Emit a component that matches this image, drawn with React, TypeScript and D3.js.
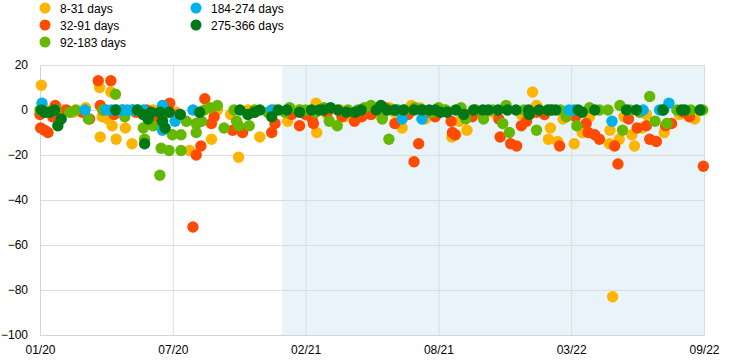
import React, { useEffect, useRef } from 'react';
import * as d3 from 'd3';

const seriesNames = ['8-31 days', '32-91 days', '92-183 days', '184-274 days', '275-366 days'];
const seriesColors = ['#FFB400', '#FF4B00', '#65B800', '#00B1EA', '#007816'];
const xTickLabels = ['01/20', '07/20', '02/21', '08/21', '03/22', '09/22'];
const yTicks = [-100, -80, -60, -40, -20, 0, 20];
const shadeFrom = '2021-01-01';

const days8to31: [string, number][] = [
  ['2020-01-03', 11], ['2020-01-10', 0], ['2020-01-20', -2], ['2020-02-05', 0], ['2020-02-20', -1],
  ['2020-03-10', 1], ['2020-03-31', 10], ['2020-04-01', -12], ['2020-04-04', -3], ['2020-04-12', -4],
  ['2020-04-17', 8], ['2020-04-19', -7], ['2020-04-25', -13], ['2020-05-09', -8], ['2020-05-19', -15],
  ['2020-06-05', -2], ['2020-06-20', 0], ['2020-07-05', -3], ['2020-07-25', -1], ['2020-08-14', -18],
  ['2020-08-25', -6], ['2020-09-16', -13], ['2020-09-25', 0], ['2020-10-15', -2], ['2020-10-27', -21],
  ['2020-11-10', 0], ['2020-11-28', -12], ['2020-12-15', -1], ['2021-01-09', -5], ['2021-01-25', 0],
  ['2021-02-21', 3], ['2021-02-22', -10], ['2021-03-10', -2], ['2021-03-30', 0], ['2021-04-05', -3],
  ['2021-04-20', -3], ['2021-05-10', 0], ['2021-05-28', -2], ['2021-06-01', -3], ['2021-06-12', 1],
  ['2021-06-20', -1], ['2021-07-01', -8], ['2021-07-15', 2], ['2021-07-28', 1], ['2021-08-05', -4],
  ['2021-08-15', -2], ['2021-09-03', 0], ['2021-09-14', -12], ['2021-09-20', -11], ['2021-09-25', -5],
  ['2021-10-07', -9], ['2021-10-20', 0], ['2021-11-15', -1], ['2021-12-05', 1], ['2021-12-28', -2],
  ['2022-01-14', 8], ['2022-01-20', 2], ['2022-02-07', -13], ['2022-02-10', -8], ['2022-02-21', -14],
  ['2022-03-01', -4], ['2022-03-18', -15], ['2022-03-30', -10], ['2022-04-10', -3], ['2022-05-10', -15],
  ['2022-05-11', -9], ['2022-05-15', -83], ['2022-05-25', -13], ['2022-06-01', -3], ['2022-06-13', -11],
  ['2022-06-17', -16], ['2022-06-28', -8], ['2022-07-05', -2], ['2022-08-01', -10], ['2022-08-24', -2],
  ['2022-09-16', -4], ['2022-09-25', 0],
];

const days32to91: [string, number][] = [
  ['2020-01-01', -2], ['2020-01-02', -8], ['2020-01-08', -9], ['2020-01-13', -10], ['2020-01-20', -3],
  ['2020-01-24', 2], ['2020-02-10', 0], ['2020-03-05', -1], ['2020-03-16', -4], ['2020-03-29', 13],
  ['2020-04-01', 2], ['2020-04-05', 0], ['2020-04-17', 13], ['2020-04-22', -2], ['2020-05-05', 0],
  ['2020-05-25', -1], ['2020-06-10', 0], ['2020-06-25', -3], ['2020-07-15', 3], ['2020-07-28', -2],
  ['2020-08-19', -52], ['2020-08-24', -20], ['2020-08-31', -16], ['2020-09-06', 5], ['2020-09-16', -6],
  ['2020-09-20', -3], ['2020-10-18', -9], ['2020-11-02', -10], ['2020-11-20', -1], ['2020-12-16', -10],
  ['2020-12-21', -6], ['2021-01-15', -2], ['2021-01-27', -7], ['2021-02-05', -2], ['2021-02-15', -4],
  ['2021-02-17', -6], ['2021-03-10', -1], ['2021-04-01', -3], ['2021-04-20', -5], ['2021-05-01', -3],
  ['2021-05-15', -2], ['2021-06-05', 1], ['2021-06-20', -6], ['2021-07-10', -2], ['2021-07-19', -23],
  ['2021-07-26', -15], ['2021-08-10', -1], ['2021-08-20', -3], ['2021-08-30', 0], ['2021-09-13', -5],
  ['2021-09-15', -10], ['2021-09-19', -11], ['2021-10-05', -2], ['2021-10-15', -3], ['2021-10-30', -1],
  ['2021-11-24', -4], ['2021-11-26', -12], ['2021-12-12', -15], ['2021-12-21', -16], ['2021-12-28', -7],
  ['2022-01-05', -5], ['2022-01-20', -1], ['2022-02-01', -2], ['2022-02-24', -16], ['2022-03-10', -2],
  ['2022-03-20', -3], ['2022-04-05', -6], ['2022-04-08', -10], ['2022-04-18', -11], ['2022-04-25', -13],
  ['2022-05-18', -16], ['2022-05-23', -24], ['2022-06-08', -4], ['2022-06-21', -8], ['2022-07-05', -7],
  ['2022-07-10', -13], ['2022-07-20', -14], ['2022-08-03', -7], ['2022-08-12', -6], ['2022-08-30', -1],
  ['2022-09-08', -3], ['2022-09-29', -25],
];

const days92to183: [string, number][] = [
  ['2020-01-01', 0], ['2020-01-10', -1], ['2020-01-25', 0], ['2020-02-15', -1], ['2020-02-24', 0],
  ['2020-03-14', -4], ['2020-04-05', 0], ['2020-04-24', 7], ['2020-05-08', -3], ['2020-05-20', 0],
  ['2020-06-05', -8], ['2020-06-07', -13], ['2020-06-20', -7], ['2020-06-30', -29], ['2020-07-02', -17],
  ['2020-07-14', -18], ['2020-07-19', -11], ['2020-08-01', -11], ['2020-08-01', -18], ['2020-08-09', -5],
  ['2020-08-24', -6], ['2020-08-24', -10], ['2020-09-01', -5], ['2020-09-05', 0], ['2020-09-14', 1],
  ['2020-09-25', 2], ['2020-10-05', -8], ['2020-10-20', 0], ['2020-10-24', -5], ['2020-10-27', -7],
  ['2020-11-12', -7], ['2020-11-20', 0], ['2020-12-10', -1], ['2020-12-20', 0], ['2021-01-05', -1],
  ['2021-01-12', 1], ['2021-01-28', 0], ['2021-02-05', 0], ['2021-02-20', -1], ['2021-03-05', 1],
  ['2021-03-13', -5], ['2021-03-25', -7], ['2021-04-10', 0], ['2021-04-25', 0], ['2021-05-05', 1],
  ['2021-05-15', 2], ['2021-06-01', -4], ['2021-06-11', -13], ['2021-06-15', 0], ['2021-06-25', 0],
  ['2021-07-05', 0], ['2021-07-20', 1], ['2021-08-01', 0], ['2021-08-15', -1], ['2021-08-25', 1],
  ['2021-09-05', 0], ['2021-09-28', 1], ['2021-10-05', -4], ['2021-10-20', 0], ['2021-11-01', -4],
  ['2021-11-15', 0], ['2021-11-30', -6], ['2021-12-05', 2], ['2021-12-10', -10], ['2022-01-01', 0],
  ['2022-01-20', -9], ['2022-02-10', 0], ['2022-02-25', 0], ['2022-03-06', -3], ['2022-03-22', -7],
  ['2022-04-10', 1], ['2022-04-25', 0], ['2022-05-08', 0], ['2022-05-26', 2], ['2022-05-30', -9],
  ['2022-06-10', 0], ['2022-06-25', -1], ['2022-07-10', 6], ['2022-07-18', -5], ['2022-08-05', -6],
  ['2022-08-20', 0], ['2022-09-10', 0], ['2022-09-28', 0],
];

const days184to274: [string, number][] = [
  ['2020-01-04', 3], ['2020-03-09', 0], ['2020-04-10', 0], ['2020-04-18', 0], ['2020-04-26', 0],
  ['2020-05-04', 0], ['2020-05-12', 0], ['2020-05-20', 0], ['2020-05-28', 0], ['2020-06-05', 0],
  ['2020-07-04', 2], ['2020-07-04', -9], ['2020-07-23', -5], ['2020-08-19', 0], ['2020-12-16', 0],
  ['2021-06-22', 0], ['2021-07-01', -4], ['2021-07-29', 0], ['2021-07-31', -4], ['2022-03-10', 0],
  ['2022-03-18', 0], ['2022-05-14', -5], ['2022-06-30', 0], ['2022-07-25', 0], ['2022-07-31', 0],
  ['2022-08-08', 3],
];

const days275to366: [string, number][] = [
  ['2020-01-03', 0], ['2020-01-08', -1], ['2020-01-16', -1], ['2020-01-23', 0], ['2020-01-28', -7],
  ['2020-02-02', -4], ['2020-04-24', 0], ['2020-05-27', 0], ['2020-06-05', -2], ['2020-06-07', -15],
  ['2020-06-12', -4], ['2020-06-17', -1], ['2020-06-30', -1], ['2020-07-04', -5], ['2020-07-08', -8],
  ['2020-07-14', -1], ['2020-07-31', -2], ['2020-08-29', -1], ['2020-10-29', 0], ['2020-11-10', -2],
  ['2020-11-20', -1], ['2020-11-28', 0], ['2020-12-16', -3], ['2020-12-26', 0], ['2021-01-08', 0],
  ['2021-01-27', -1], ['2021-02-14', 0], ['2021-02-26', 0], ['2021-03-04', 0], ['2021-03-15', 1],
  ['2021-03-26', 0], ['2021-04-08', -1], ['2021-04-21', -1], ['2021-04-30', 0], ['2021-05-23', 0],
  ['2021-05-30', 2], ['2021-06-08', 0], ['2021-06-20', 0], ['2021-07-03', 0], ['2021-07-19', 0],
  ['2021-07-31', 0], ['2021-08-11', 0], ['2021-08-20', 0], ['2021-08-28', -1], ['2021-09-07', -1],
  ['2021-09-20', 0], ['2021-10-02', -2], ['2021-10-17', 0], ['2021-10-31', 0], ['2021-11-08', 0],
  ['2021-11-23', 0], ['2021-12-07', 0], ['2021-12-20', 0], ['2022-01-08', 0], ['2022-01-09', -2],
  ['2022-01-24', 0], ['2022-02-06', 0], ['2022-02-12', 0], ['2022-02-18', 0], ['2022-03-24', 0],
  ['2022-03-30', -1], ['2022-04-18', 0], ['2022-06-05', 0], ['2022-06-20', 0], ['2022-07-30', 0],
  ['2022-08-27', 0], ['2022-09-01', 0], ['2022-09-24', 0],
];

const allSeries = [days8to31, days32to91, days92to183, days184to274, days275to366];

const W = 744;
const H = 362;
const m = { left: 40, right: 40, top: 65, bottom: 27 };

export default function App() {
  const ref = useRef<SVGSVGElement>(null);

  useEffect(() => {
    const svg = d3.select(ref.current);
    svg.selectAll('*').remove();

    const parse = d3.timeParse('%Y-%m-%d');
    const start = new Date(2020, 0, 1);
    const end = new Date(2022, 8, 30);

    const x = d3.scaleTime().domain([start, end]).range([m.left, W - m.right]);
    const xLab = d3.scalePoint().domain(xTickLabels).range([m.left, W - m.right]);
    const y = d3.scaleLinear().domain([-100, 20]).range([H - m.bottom, m.top]);

    // shaded period
    svg.append('rect')
      .attr('x', x(parse(shadeFrom)!))
      .attr('y', y(20))
      .attr('width', x(end) - x(parse(shadeFrom)!))
      .attr('height', y(-100) - y(20))
      .attr('fill', '#e9f4fa');

    // horizontal grid
    svg.append('g')
      .attr('transform', `translate(${m.left},0)`)
      .call(d3.axisLeft(y).tickValues(yTicks).tickSize(-(W - m.left - m.right)).tickFormat(() => ''))
      .call(g => g.select('.domain').remove())
      .call(g => g.selectAll('line').attr('stroke', '#dcdcdc'));

    // vertical grid
    svg.append('g')
      .attr('transform', `translate(0,${m.top})`)
      .call(d3.axisBottom(xLab).tickSize(H - m.top - m.bottom).tickFormat(() => ''))
      .call(g => g.select('.domain').remove())
      .call(g => g.selectAll('line').attr('stroke', '#dcdcdc'));

    // y axis labels
    svg.append('g')
      .attr('transform', `translate(${m.left},0)`)
      .call(d3.axisLeft(y).tickValues(yTicks).tickSize(0).tickPadding(12))
      .call(g => g.select('.domain').attr('stroke', '#d4d4d4'))
      .call(g => g.selectAll('text').attr('font-family', 'Liberation Sans, Arial, sans-serif').attr('font-size', 12).attr('fill', '#000'));

    // x axis labels
    svg.append('g')
      .attr('transform', `translate(0,${H - m.bottom})`)
      .call(d3.axisBottom(xLab).tickSize(0).tickPadding(10))
      .call(g => g.select('.domain').attr('stroke', '#d4d4d4'))
      .call(g => g.selectAll('text').attr('font-family', 'Liberation Sans, Arial, sans-serif').attr('font-size', 12).attr('fill', '#000'));

    // dots
    allSeries.forEach((data, i) => {
      svg.append('g')
        .selectAll('circle')
        .data(data)
        .enter()
        .append('circle')
        .attr('cx', d => x(parse(d[0])!))
        .attr('cy', d => y(d[1]))
        .attr('r', 5.7)
        .attr('fill', seriesColors[i]);
    });

    // legend
    const legPos = [[45, 8], [45, 25], [45, 42], [196, 8], [196, 25]];
    const leg = svg.append('g');
    seriesNames.forEach((name, i) => {
      leg.append('circle')
        .attr('cx', legPos[i][0])
        .attr('cy', legPos[i][1])
        .attr('r', 5.5)
        .attr('fill', seriesColors[i]);
      leg.append('text')
        .attr('x', legPos[i][0] + 15)
        .attr('y', legPos[i][1] + 4.5)
        .attr('font-family', 'Liberation Sans, Arial, sans-serif')
        .attr('font-size', 12)
        .attr('fill', '#000')
        .text(name);
    });
  }, []);

  return (
    <svg ref={ref} width={W} height={H} style={{ position: 'absolute', left: 0, top: 0, background: '#fff' }} />
  );
}
